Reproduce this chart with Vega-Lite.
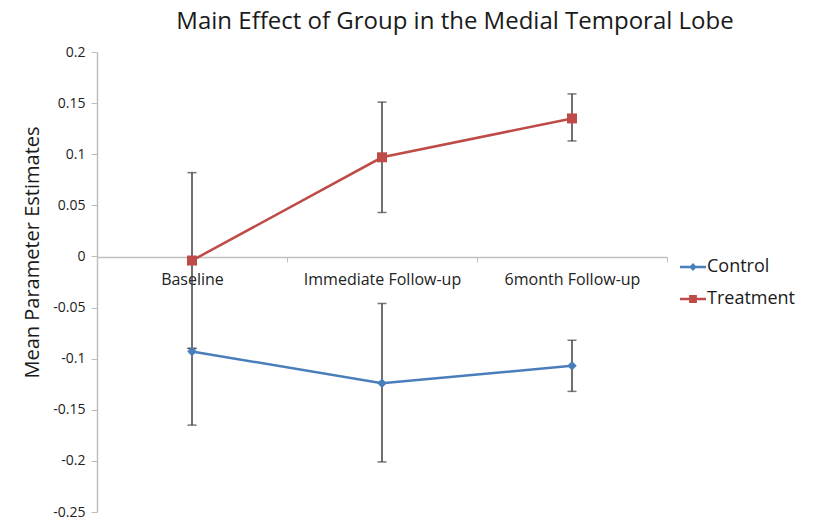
{
  "$schema": "https://vega.github.io/schema/vega-lite/v6.json",
  "width": 570,
  "height": 460,
  "autosize": {"type": "none"},
  "padding": {"left": 97, "top": 52, "right": 146, "bottom": 7},
  "title": {
    "text": "Main Effect of Group in the Medial Temporal Lobe",
    "fontSize": 24,
    "font": "Open Sans",
    "fontWeight": "normal",
    "color": "#1a1a1a",
    "dx": 73,
    "offset": 11
  },
  "config": {"view": {"stroke": null}, "font": "Open Sans"},
  "data": {
    "values": [
      {"time": "Baseline", "group": "Control", "mean": -0.093, "lo": -0.165, "hi": -0.09},
      {"time": "Immediate Follow-up", "group": "Control", "mean": -0.124, "lo": -0.201, "hi": -0.046},
      {"time": "6month Follow-up", "group": "Control", "mean": -0.107, "lo": -0.132, "hi": -0.082},
      {"time": "Baseline", "group": "Treatment", "mean": -0.004, "lo": -0.09, "hi": 0.082},
      {"time": "Immediate Follow-up", "group": "Treatment", "mean": 0.097, "lo": 0.043, "hi": 0.151},
      {"time": "6month Follow-up", "group": "Treatment", "mean": 0.135, "lo": 0.113, "hi": 0.159}
    ]
  },
  "encoding": {
    "x": {
      "field": "time",
      "type": "nominal",
      "sort": ["Baseline", "Immediate Follow-up", "6month Follow-up"],
      "scale": {"type": "band", "paddingInner": 0, "paddingOuter": 0},
      "axis": {
        "title": null,
        "orient": "bottom",
        "offset": -255,
        "labelAngle": 0,
        "labelFontSize": 16,
        "labelColor": "#222222",
        "labelPadding": 9,
        "domainColor": "#bfbfbf",
        "domainWidth": 1.5,
        "tickColor": "#bfbfbf",
        "tickBand": "extent",
        "tickSize": 5
      }
    },
    "y": {
      "field": "mean",
      "type": "quantitative",
      "scale": {"domain": [-0.25, 0.2], "nice": false, "zero": false},
      "axis": {
        "title": "Mean Parameter Estimates",
        "titleFontSize": 20,
        "titleFontWeight": "normal",
        "titleColor": "#1a1a1a",
        "titlePadding": 10,
        "titleY": 200,
        "values": [-0.25, -0.2, -0.15, -0.1, -0.05, 0, 0.05, 0.1, 0.15, 0.2],
        "labelExpr": "datum.value + ''",
        "labelFontSize": 14,
        "labelColor": "#222222",
        "labelPadding": 6,
        "grid": false,
        "domainColor": "#bfbfbf",
        "domainWidth": 1.5,
        "tickColor": "#bfbfbf",
        "tickSize": 6
      }
    }
  },
  "layer": [
    {
      "mark": {"type": "rule", "color": "#404040", "strokeWidth": 1.5},
      "encoding": {
        "y": {"field": "lo", "type": "quantitative"},
        "y2": {"field": "hi"}
      }
    },
    {
      "mark": {"type": "tick", "color": "#404040", "size": 9, "thickness": 1.5},
      "encoding": {"y": {"field": "lo", "type": "quantitative"}}
    },
    {
      "mark": {"type": "tick", "color": "#404040", "size": 9, "thickness": 1.5},
      "encoding": {"y": {"field": "hi", "type": "quantitative"}}
    },
    {
      "mark": {"type": "line", "strokeWidth": 2.5},
      "encoding": {
        "color": {
          "field": "group",
          "type": "nominal",
          "scale": {"domain": ["Control", "Treatment"], "range": ["#4a7ebb", "#be4b48"]},
          "legend": {
            "title": null,
            "orient": "none",
            "legendX": 583,
            "legendY": 202,
            "labelFontSize": 18,
            "labelColor": "#1a1a1a",
            "labelOffset": 1,
            "symbolSize": 676,
            "rowPadding": 10,
            "encode": {
              "symbols": {
                "update": {
                  "shape": {"signal": "datum.value === 'Control' ? 'M-1,-0.09H1V0.09H-1Z M0,-0.3L0.3,0L0,0.3L-0.3,0Z' : 'M-1,-0.09H1V0.09H-1Z M-0.3,-0.3H0.3V0.3H-0.3Z'"},
                  "fill": {"signal": "datum.value === 'Control' ? '#4a7ebb' : '#be4b48'"},
                  "fillOpacity": {"value": 1},
                  "strokeWidth": {"value": 0},
                  "opacity": {"value": 1}
                }
              }
            }
          }
        }
      }
    },
    {
      "transform": [{"filter": "datum.group === 'Control'"}],
      "mark": {"type": "point", "filled": true, "opacity": 1, "shape": "diamond", "color": "#4a7ebb", "size": 90}
    },
    {
      "transform": [{"filter": "datum.group === 'Treatment'"}],
      "mark": {"type": "point", "filled": true, "opacity": 1, "shape": "square", "color": "#be4b48", "size": 100}
    }
  ]
}
